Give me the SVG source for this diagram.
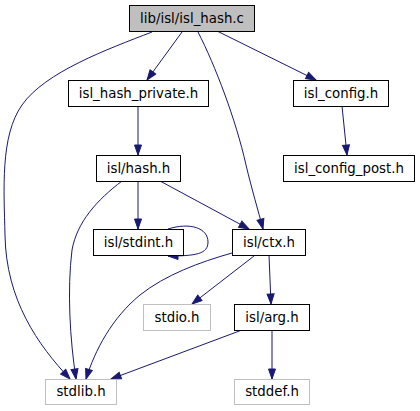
<svg xmlns="http://www.w3.org/2000/svg" width="420" height="411" viewBox="0 0 420 411">
<style>
.n rect{fill:#fff;stroke:#000;stroke-width:1}
.n.root rect{fill:#bfbfbf}
.n.ext rect{stroke:#bfbfbf}
.n text{font-family:"DejaVu Sans","Liberation Sans",sans-serif;font-size:13.33px;text-anchor:middle;fill:#000}
.e path{fill:none;stroke:#191970;stroke-width:1;marker-end:url(#a)}
</style>
<defs>
<marker id="a" markerUnits="userSpaceOnUse" markerWidth="11" markerHeight="8" refX="10" refY="3.5" orient="auto" overflow="visible">
<path d="M0,0 L10,3.5 L0,7 z" fill="#191970" stroke="#191970" stroke-width="1"/>
</marker>
</defs>
<rect width="420" height="411" fill="#fff"/>
<g id="edges" class="e">
<path d="M152,32 C108,49 45,72 22,105 C0,136 4,190 5,235 C6,300 38,345 70,379"/>
<path d="M182,32 L147,80"/>
<path d="M198,32 C215,65 236,120 246,165 C252,190 258,210 263,229"/>
<path d="M217,31 L316,80"/>
<path d="M138,106 L138,155"/>
<path d="M342,106 L347,155"/>
<path d="M138,181 L138,229"/>
<path d="M160,181 L249,229"/>
<path d="M122,181 C97,200 77,222 72,250 C67,290 70,340 76,379"/>
<path d="M168,229 C190,222 208,228 208,242 C208,254 196,256 168,256"/>
<path d="M232,253 C200,262 165,275 140,295 C112,318 95,350 86,379"/>
<path d="M254,256 L192,304"/>
<path d="M269,255 L271,304"/>
<path d="M242,330 L111,379"/>
<path d="M272,330 L272,379"/>
</g>
<g id="n_root" class="n root"><rect x="129.5" y="5.5" width="125" height="26"/><text x="192" y="22.5">lib/isl/isl_hash.c</text></g>
<g id="n_hash_private" class="n"><rect x="68.5" y="80.5" width="140" height="26"/><text x="138.5" y="97.5">isl_hash_private.h</text></g>
<g id="n_config" class="n"><rect x="293.5" y="80.5" width="95" height="26"/><text x="341" y="97.5">isl_config.h</text></g>
<g id="n_hash" class="n"><rect x="96.5" y="155.5" width="84" height="26"/><text x="138.5" y="172.5">isl/hash.h</text></g>
<g id="n_config_post" class="n"><rect x="283.5" y="155.5" width="131" height="26"/><text x="349" y="172.5">isl_config_post.h</text></g>
<g id="n_stdint" class="n"><rect x="93.5" y="229.5" width="90" height="26"/><text x="138.5" y="246.5">isl/stdint.h</text></g>
<g id="n_ctx" class="n"><rect x="232.5" y="229.5" width="73" height="26"/><text x="269" y="246.5">isl/ctx.h</text></g>
<g id="n_stdio" class="n ext"><rect x="143.5" y="304.5" width="67" height="26"/><text x="177" y="321.5">stdio.h</text></g>
<g id="n_arg" class="n"><rect x="234.5" y="304.5" width="75" height="26"/><text x="272" y="321.5">isl/arg.h</text></g>
<g id="n_stdlib" class="n ext"><rect x="45.5" y="379.5" width="71" height="25"/><text x="81" y="396">stdlib.h</text></g>
<g id="n_stddef" class="n ext"><rect x="234.5" y="379.5" width="75" height="25"/><text x="272" y="396">stddef.h</text></g>
</svg>
